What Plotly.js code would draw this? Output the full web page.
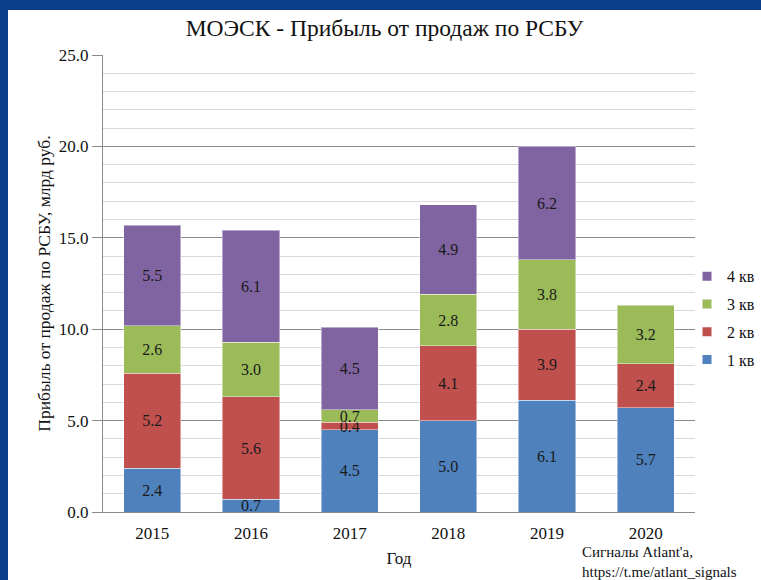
<!DOCTYPE html>
<html>
<head>
<meta charset="utf-8">
<script src="https://cdn.plot.ly/plotly-3.0.1.min.js"></script>
<style>
html,body{margin:0;padding:0;background:#0b3f8c;width:761px;height:580px;overflow:hidden;}
#chart{position:absolute;left:8px;top:10px;width:753px;height:570px;background:#fff;}
</style>
</head>
<body>
<div id="chart"></div>
<script>
const years = ['2015','2016','2017','2018','2019','2020'];
const q1 = [2.4, 0.7, 4.5, 5.0, 6.1, 5.7];
const q2 = [5.2, 5.6, 0.4, 4.1, 3.9, 2.4];
const q3 = [2.6, 3.0, 0.7, 2.8, 3.8, 3.2];
const q4 = [5.5, 6.1, 4.5, 4.9, 6.2, null];
const seriesNames = ['1 кв','2 кв','3 кв','4 кв'];
const colors = ['#4f81bd','#c0504d','#9bbb59','#8064a2'];
const serif = '"Times New Roman", "Liberation Serif", Tinos, "DejaVu Serif", serif';

const bars = [q1,q2,q3,q4].map((vals,i)=>({
  type:'bar',
  x: years,
  y: vals,
  name: seriesNames[i],
  showlegend:false,
  marker:{color:colors[i], line:{color:'rgba(255,255,255,0.45)', width:1}},
  text: vals.map(v=> v==null ? '' : v.toFixed(1)),
  textposition:'inside',
  insidetextanchor:'middle',
  constraintext:'none',
  textfont:{family:serif, size:16, color:'#1a1a1a'},
  hoverinfo:'x+y+name'
}));
const legendItems = seriesNames.map((n,i)=>({
  type:'scatter', mode:'markers', x:[null], y:[null], name:n,
  legendgroup:'g'+i, legendrank: 10-i,
  marker:{symbol:'square', size:9, color:colors[i]},
  hoverinfo:'skip'
}));

const layout = {
  width:753, height:570,
  margin:{l:95, r:66, t:45, b:68, autoexpand:false},
  paper_bgcolor:'#fff', plot_bgcolor:'#fff',
  barmode:'stack',
  bargap:0.42,
  font:{family:serif, color:'#1a1a1a'},
  uniformtext:{mode:'show', minsize:16},
  title:{text:'МОЭСК - Прибыль от продаж по РСБУ', font:{family:serif, size:23.5, color:'#111'},
    x:0.5, xref:'container', xanchor:'center', y:0.968, yref:'container', yanchor:'middle'},
  xaxis:{
    type:'category',
    showline:true, linecolor:'#8c8c8c', linewidth:1,
    ticks:'outside', ticklen:6, tickcolor:'rgba(0,0,0,0)',
    tickfont:{family:serif, size:17, color:'#111'},
    title:{text:'Год', font:{family:serif, size:17, color:'#111'}, standoff:9},
    showgrid:false, zeroline:false
  },
  yaxis:{
    range:[0,25], dtick:5, tick0:0, tickformat:'.1f',
    showline:true, linecolor:'#8c8c8c', linewidth:1,
    ticks:'outside', ticklen:10, tickcolor:'#8c8c8c',
    tickfont:{family:serif, size:17, color:'#111'},
    showgrid:true, gridcolor:'#8c8c8c', gridwidth:1,
    zeroline:false,
    minor:{dtick:1, showgrid:true, gridcolor:'#d9d9d9', gridwidth:1, ticks:''},
    title:{text:'Прибыль от продаж по РСБУ, млрд руб.', font:{family:serif, size:17.5, color:'#111'}, standoff:3}
  },
  legend:{
    x:0.9865, xanchor:'left', y:0.424, yanchor:'middle',
    traceorder:'grouped', tracegroupgap:4,
    font:{family:serif, size:16, color:'#111'},
    bgcolor:'rgba(0,0,0,0)', itemwidth:30
  },
  annotations:[{
    xref:'paper', yref:'paper', x:0.806, y:-0.0654, xanchor:'left', yanchor:'top',
    align:'left', showarrow:false,
    text:"Сигналы Atlant'a,<br>https://t.me/atlant_signals",
    font:{family:serif, size:15, color:'#111'}
  }]
};

Plotly.newPlot('chart', bars.concat(legendItems), layout, {displayModeBar:false, staticPlot:true});
</script>
</body>
</html>
